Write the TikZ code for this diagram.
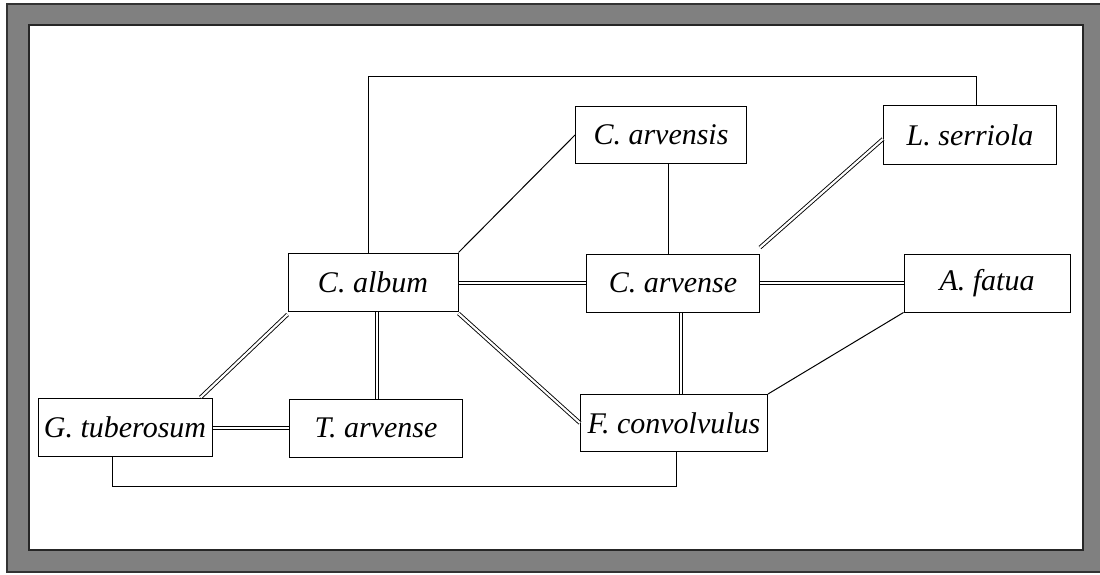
\documentclass[tikz,border=0pt]{standalone}
\usepackage{fontspec}
\setmainfont{Liberation Serif}
\begin{document}
\begin{tikzpicture}[x=1pt,y=-1pt,
  box/.style={draw,line width=1pt,minimum height=58pt,inner sep=0pt,font=\fontsize{30}{32}\selectfont\itshape},
  single/.style={line width=1pt},
  dbl/.style={double,double distance=2.2pt,line width=0.9pt}]
\useasboundingbox (0,0) rectangle (1100,575);
\fill[gray] (7,4) rectangle (1104,572);
\draw[line width=1.2pt,black!80] (7,4) rectangle (1104,572);
\fill[white] (29,25) rectangle (1083,550);
\draw[line width=1.5pt,black!85] (29,25) rectangle (1083,550);

\node[box,minimum width=170pt] (album) at (373,282) {C. album};
\node[box,minimum width=174pt] (tub) at (125,427) {G. tuberosum};
\node[box,minimum width=173pt] (tarv) at (376,428) {T. arvense};
\node[box,minimum width=173pt] (carve) at (673,283) {C. arvense};
\node[box,minimum width=166pt] (fatua) at (987,283) {A. fatua};
\node[box,minimum width=171pt,minimum height=57pt] (carvs) at (661,135) {C. arvensis};
\node[box,minimum width=173pt] (serr) at (970,135) {L. serriola};
\node[box,minimum width=187pt,minimum height=57pt] (conv) at (674,423) {F. convolvulus};

% single lines
\draw[single] (album.north -| 368,0) -- (368,77) -| (serr.north -| 976,0);
\draw[single] (album.north east) -- (carvs.west);
\draw[single] (carvs.south -| 668,0) -- (carve.north -| 668,0);
\draw[single] (fatua.south west) -- (conv.north east);
\draw[single] (tub.south -| 112,0) -- (112,486) -| (conv.south -| 676,0);

% double lines
\draw[dbl] (album.east |- 0,283) -- (carve.west);
\draw[dbl] (carve.east) -- (fatua.west);
\draw[dbl] ([yshift=6pt]carve.north east) -- ([yshift=-4pt]serr.west);
\draw[dbl] (carve.south -| 681,0) -- (conv.north -| 681,0);
\draw[dbl] ([yshift=-2pt]album.south east) -- (conv.west);
\draw[dbl] (album.south -| 377,0) -- (tarv.north -| 377,0);
\draw[dbl] ([yshift=-3pt]album.south west) -- ([xshift=-12pt]tub.north east);
\draw[dbl] (tub.east |- 0,428) -- (tarv.west);
\end{tikzpicture}
\end{document}
